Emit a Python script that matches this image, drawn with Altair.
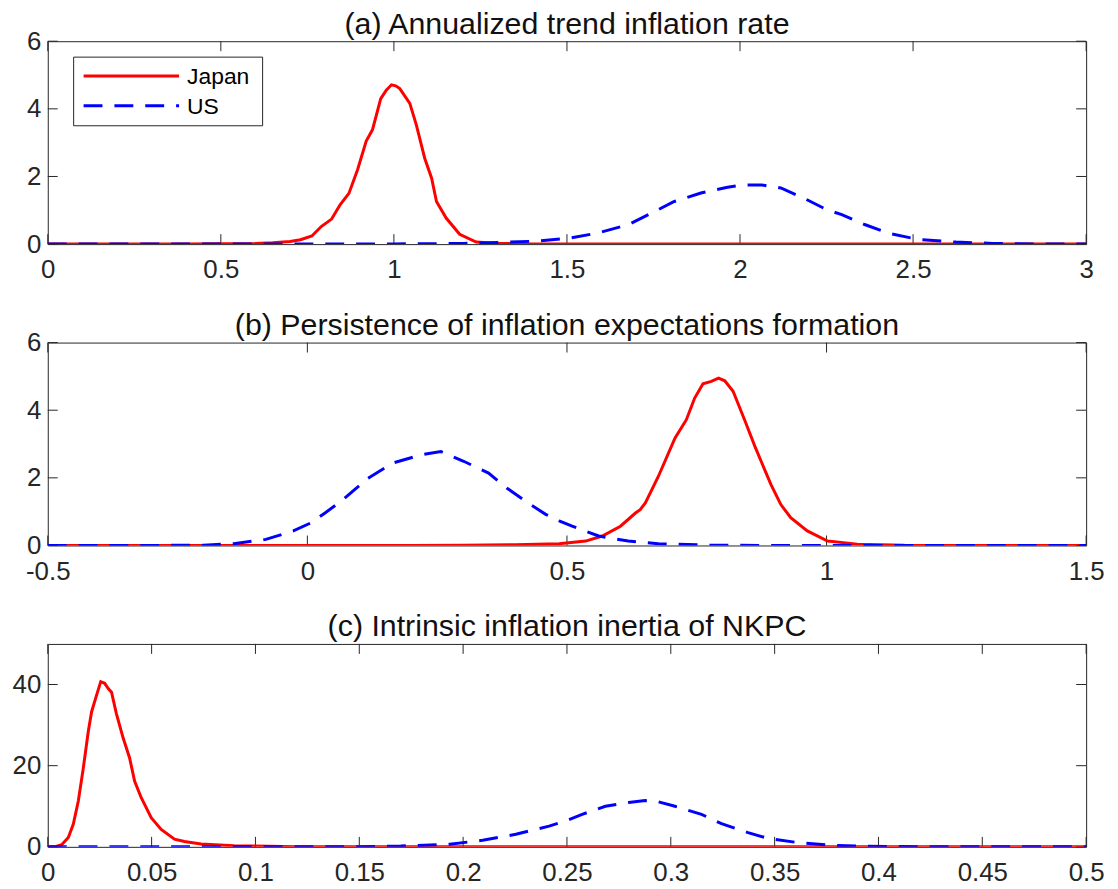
import altair as alt
import pandas as pd

# ---------------- data ----------------
# (a) Annualized trend inflation rate
a_jp_x = [0, 0.2, 0.4, 0.5, 0.6, 0.65, 0.7, 0.73, 0.763, 0.79, 0.82, 0.845, 0.87, 0.895, 0.92, 0.938, 0.962,
          0.978, 0.993, 1.005, 1.017, 1.046, 1.065, 1.089, 1.109, 1.123, 1.151, 1.19, 1.238, 1.3, 1.4, 1.6, 2.0, 2.5, 3.0]
a_jp_y = [0, 0, 0.005, 0.01, 0.02, 0.04, 0.08, 0.13, 0.24, 0.52, 0.74, 1.17, 1.5, 2.2, 3.05, 3.38, 4.3,
          4.55, 4.71, 4.68, 4.6, 4.16, 3.52, 2.54, 1.95, 1.26, 0.77, 0.29, 0.06, 0.02, 0.005, 0, 0, 0, 0]
a_us_x = [0, 0.5, 1.0, 1.2, 1.305, 1.415, 1.503, 1.59, 1.678, 1.745, 1.81, 1.887, 1.964, 2.01, 2.063, 2.118,
          2.184, 2.25, 2.294, 2.36, 2.426, 2.514, 2.624, 2.73, 2.85, 3.0]
a_us_y = [0, 0, 0.005, 0.02, 0.05, 0.09, 0.17, 0.33, 0.58, 0.92, 1.26, 1.51, 1.68, 1.75, 1.75, 1.66,
          1.36, 1.02, 0.87, 0.58, 0.33, 0.14, 0.06, 0.02, 0.005, 0]

# (b) Persistence of inflation expectations formation
b_jp_x = [-0.5, 0.2, 0.3, 0.4, 0.485, 0.536, 0.568, 0.603, 0.632, 0.641, 0.651, 0.676, 0.708, 0.73, 0.746,
          0.762, 0.778, 0.792, 0.804, 0.82, 0.843, 0.862, 0.874, 0.893, 0.912, 0.931, 0.963, 1.002, 1.059, 1.15, 1.5]
b_jp_y = [0, 0, 0.005, 0.02, 0.05, 0.13, 0.28, 0.57, 0.96, 1.06, 1.26, 2.04, 3.17, 3.72, 4.36,
          4.78, 4.85, 4.95, 4.87, 4.56, 3.68, 2.93, 2.49, 1.8, 1.21, 0.82, 0.43, 0.13, 0.04, 0.005, 0]
b_us_x = [-0.5, -0.3, -0.2, -0.142, -0.08, -0.027, 0.007, 0.034, 0.069, 0.117, 0.165, 0.219, 0.257, 0.301,
          0.349, 0.384, 0.425, 0.459, 0.485, 0.51, 0.561, 0.618, 0.676, 0.772, 0.9, 1.0, 1.5]
b_us_y = [0, 0, 0.01, 0.05, 0.18, 0.43, 0.67, 0.96, 1.36, 1.99, 2.44, 2.68, 2.78, 2.49,
          2.14, 1.7, 1.26, 0.92, 0.73, 0.57, 0.28, 0.13, 0.05, 0.01, 0, 0, 0]

# (c) Intrinsic inflation inertia of NKPC
c_jp_x = [0, 0.004, 0.0067, 0.0099, 0.0123, 0.0147, 0.0171, 0.0195, 0.0211, 0.0235, 0.0255, 0.0274, 0.0291,
          0.0307, 0.033, 0.0363, 0.0394, 0.0418, 0.045, 0.0498, 0.0546, 0.061, 0.0658, 0.0738, 0.0896, 0.12, 0.2, 0.5]
c_jp_y = [0, 0.1, 0.5, 2.3, 5.6, 11.3, 19.4, 28.4, 33.3, 37.4, 40.7, 40.3, 39.0,
          38.1, 32.9, 26.8, 21.9, 16.2, 12.1, 7.2, 4.3, 1.9, 1.3, 0.7, 0.25, 0.05, 0, 0]
c_us_x = [0, 0.12, 0.15, 0.17, 0.1935, 0.2094, 0.2254, 0.2414, 0.2494, 0.2573, 0.2685, 0.2797, 0.2877, 0.2925,
          0.302, 0.3148, 0.3244, 0.3372, 0.3467, 0.3611, 0.3771, 0.393, 0.42, 0.5]
c_us_y = [0, 0, 0.05, 0.2, 0.65, 1.6, 3.1, 5.1, 6.4, 8.0, 10.0, 10.9, 11.4, 11.3,
          10.0, 8.0, 5.7, 3.5, 2.1, 1.05, 0.4, 0.15, 0.02, 0]

titles = ["(a) Annualized trend inflation rate",
          "(b) Persistence of inflation expectations formation",
          "(c) Intrinsic inflation inertia of NKPC"]
x_domains = [[0, 3], [-0.5, 1.5], [0, 0.5]]
x_ticks = [[0, 0.5, 1, 1.5, 2, 2.5, 3],
           [-0.5, 0, 0.5, 1, 1.5],
           [0, 0.05, 0.1, 0.15, 0.2, 0.25, 0.3, 0.35, 0.4, 0.45, 0.5]]
y_domains = [[0, 6], [0, 6], [0, 50]]
y_ticks = [[0, 2, 4, 6], [0, 2, 4, 6], [0, 20, 40]]
series_names = ["Japan", "US"]

# ---------------- style ----------------
W, H = 1044, 204
FONT = "Liberation Sans"
AXC = "#262626"
RED = "#FF0000"
BLUE = "#0000FF"
DASH = [19, 12]
TL = 10  # inner tick length


def panel(i, jx, jy, ux, uy, legend=False):
    xs = alt.Scale(domain=x_domains[i], nice=False, zero=False)
    ys = alt.Scale(domain=y_domains[i], nice=False, zero=False)
    ymax = y_domains[i][1]
    # the axis always carries a (possibly blank) label at the top so every panel has the same bounds
    y_axis_vals = list(y_ticks[i]) + ([] if ymax in y_ticks[i] else [ymax])
    y_label_expr = f"datum.value == {ymax} && {str(ymax not in y_ticks[i]).lower()} ? ' ' : '' + datum.value"
    xaxis = alt.Axis(values=x_ticks[i], labelExpr="'' + datum.value", title=None, ticks=False, tickSize=0,
                     grid=False, domain=False, labelFont=FONT, labelFontSize=26, labelColor=AXC, labelPadding=13,
                     labelOverlap=False, labelFlush=False)
    yaxis = alt.Axis(values=y_axis_vals, labelExpr=y_label_expr, title=None, ticks=False, tickSize=0, grid=False,
                     domain=False, labelFont=FONT, labelFontSize=26, labelColor=AXC, labelPadding=7,
                     labelOverlap=False, labelFlush=False)
    X = lambda: alt.X("x:Q", scale=xs, axis=xaxis)
    Y = lambda: alt.Y("y:Q", scale=ys, axis=yaxis)

    dj = pd.DataFrame({"x": jx, "y": jy})
    du = pd.DataFrame({"x": ux, "y": uy})
    xt = pd.DataFrame({"x": x_ticks[i]})
    yt = pd.DataFrame({"y": y_ticks[i]})

    layers = [
        alt.Chart(xt).mark_rule(color=AXC, strokeWidth=1).encode(x=X(), y=alt.value(H), y2=alt.value(H - TL)),
        alt.Chart(xt).mark_rule(color=AXC, strokeWidth=1).encode(x=X(), y=alt.value(0), y2=alt.value(TL)),
        alt.Chart(yt).mark_rule(color=AXC, strokeWidth=1).encode(y=Y(), x=alt.value(0), x2=alt.value(TL)),
        alt.Chart(yt).mark_rule(color=AXC, strokeWidth=1).encode(y=Y(), x=alt.value(W - TL), x2=alt.value(W)),
        alt.Chart(dj).mark_line(color=RED, strokeWidth=3, clip=True).encode(x=X(), y=Y()),
        alt.Chart(du).mark_line(color=BLUE, strokeWidth=3, strokeDash=DASH, clip=True).encode(x=X(), y=Y()),
    ]
    if legend:
        one = pd.DataFrame({"k": [0]})
        layers += [
            alt.Chart(one).mark_rect(fill="white", stroke=AXC, strokeWidth=1).encode(
                x=alt.value(26), x2=alt.value(216), y=alt.value(16), y2=alt.value(85)),
            alt.Chart(one).mark_rule(color=RED, strokeWidth=3).encode(
                x=alt.value(36), x2=alt.value(132), y=alt.value(35)),
            alt.Chart(one).mark_rule(color=BLUE, strokeWidth=3, strokeDash=DASH).encode(
                x=alt.value(36), x2=alt.value(132), y=alt.value(65)),
            alt.Chart(one).mark_text(align="left", baseline="middle", font=FONT, fontSize=23, color="#000000").encode(
                x=alt.value(140), y=alt.value(36), text=alt.value(series_names[0])),
            alt.Chart(one).mark_text(align="left", baseline="middle", font=FONT, fontSize=23, color="#000000").encode(
                x=alt.value(140), y=alt.value(66), text=alt.value(series_names[1])),
        ]
    return alt.layer(*layers).properties(
        width=W, height=H,
        title=alt.TitleParams(titles[i], font=FONT, fontSize=30.5, fontWeight="normal", color="#111111",
                              anchor="middle", frame="group", offset=-12),
    )


chart = alt.vconcat(
    panel(0, a_jp_x, a_jp_y, a_us_x, a_us_y, legend=True),
    panel(1, b_jp_x, b_jp_y, b_us_x, b_us_y),
    panel(2, c_jp_x, c_jp_y, c_us_x, c_us_y),
    spacing=27,
).properties(
    padding={"left": 3, "top": -1, "right": 5, "bottom": 0},
    background="white",
).configure_view(stroke=AXC, strokeWidth=1)

chart.save("out.html", embed_options={"renderer": "svg", "actions": False})
